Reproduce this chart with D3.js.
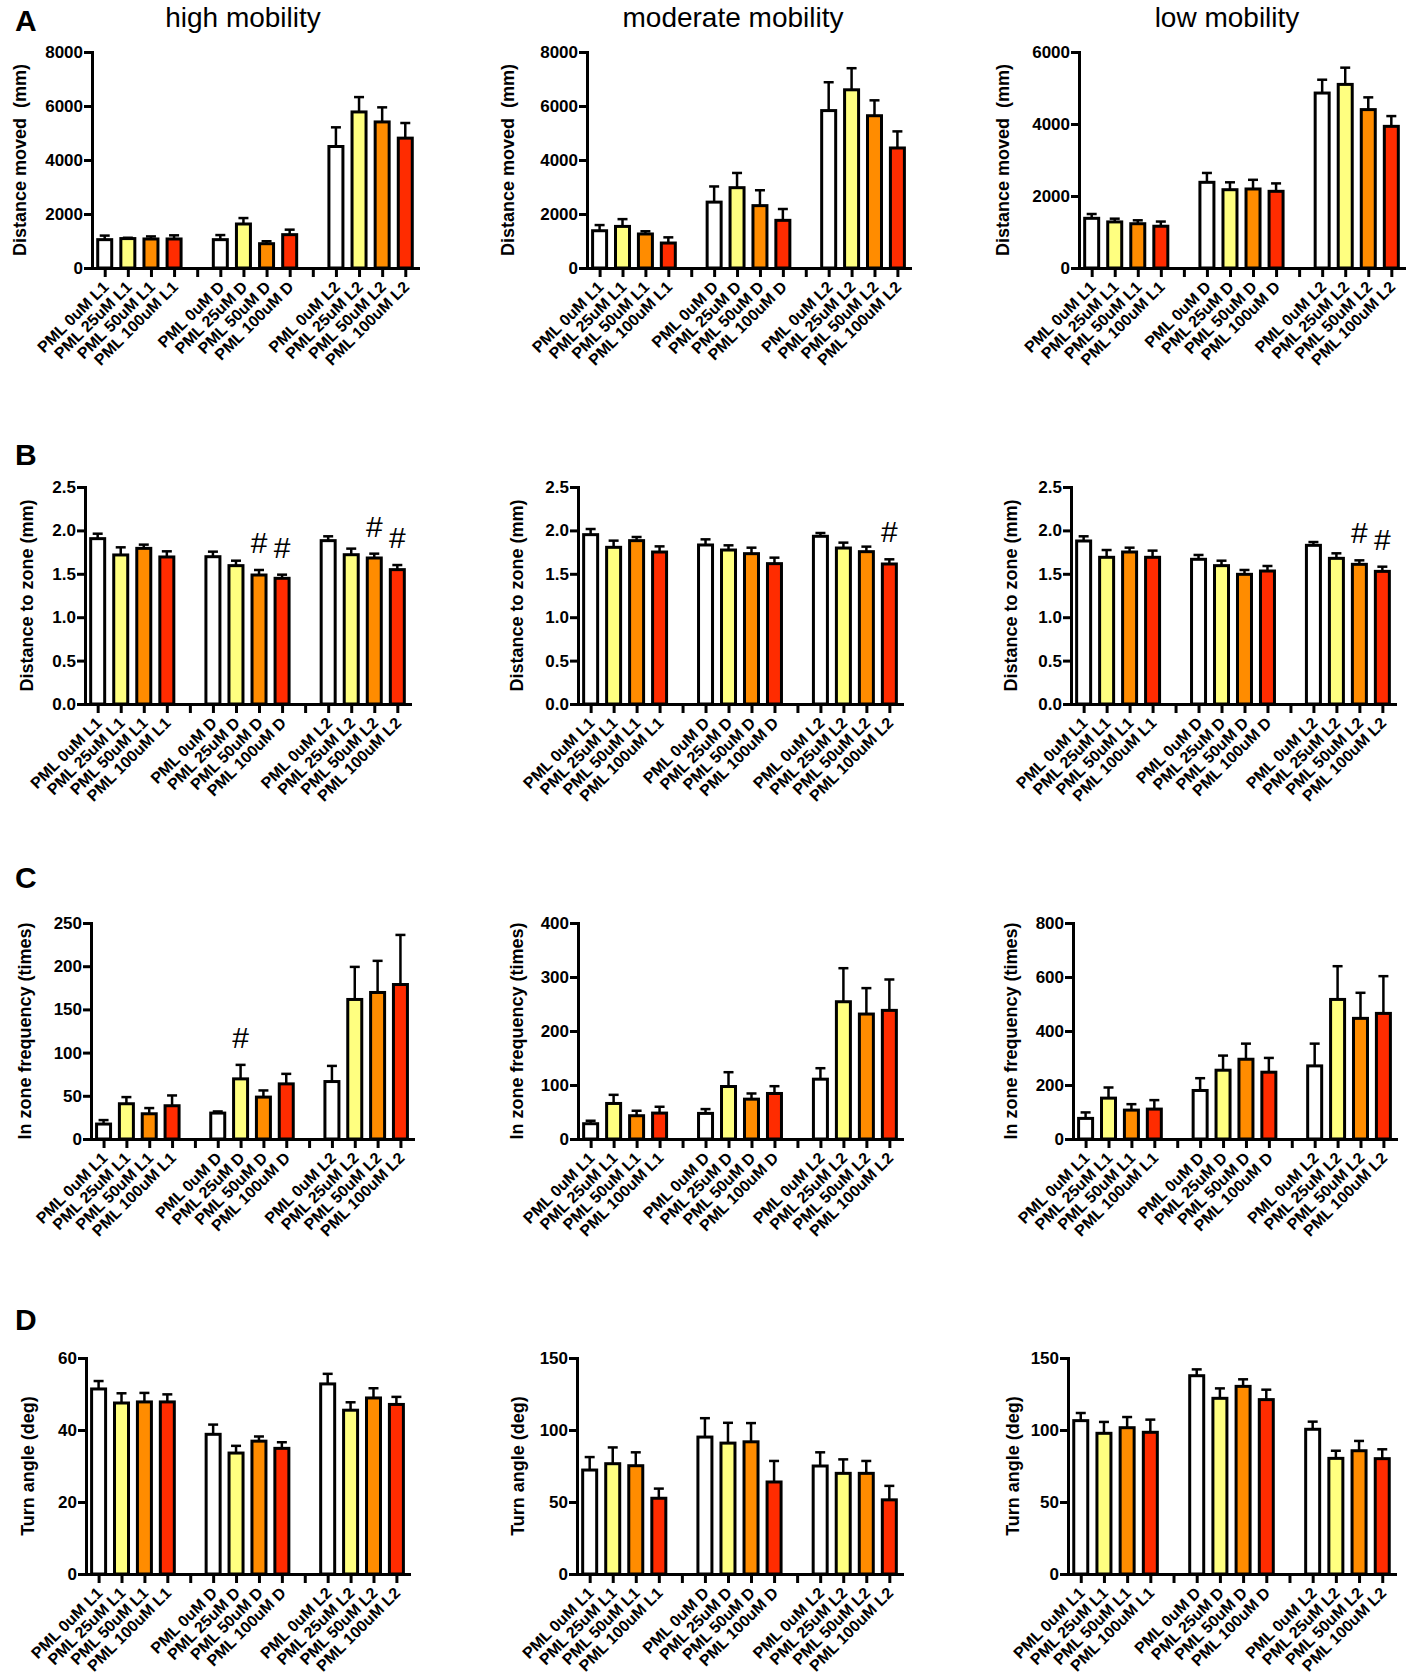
<!DOCTYPE html>
<html lang="en">
<head>
<meta charset="UTF-8">
<title>PML mobility bar charts</title>
<script src="https://d3js.org/d3.v7.min.js"></script>
<style>
    body { margin: 0; background: #fff; }
    svg { display: block; font-family: Arial, "Liberation Sans", sans-serif; }
    .tick text { font-weight: bold; font-size: 17px; fill: #000; }
    .ylab { font-weight: bold; font-size: 18px; white-space: pre; }
    .xlab { font-weight: bold; font-size: 16px; }
</style>
</head>
<body>
<div id="chart"></div>
<script>
// categories and columns
const categories = [
    "PML 0uM L1", "PML 25uM L1", "PML 50uM L1", "PML 100uM L1",
    "PML 0uM D", "PML 25uM D", "PML 50uM D", "PML 100uM D",
    "PML 0uM L2", "PML 25uM L2", "PML 50uM L2", "PML 100uM L2"
];
const columnTitles = ["high mobility", "moderate mobility", "low mobility"];
const rowLetters = ["A", "B", "C", "D"];
const yLabels = ["Distance moved  (mm)", "Distance to zone (mm)", "In zone frequency (times)", "Turn angle (deg)"];

// y axis extents and tick steps per row / column
const yMax = [[8000, 8000, 6000], [2.5, 2.5, 2.5], [250, 400, 800], [60, 150, 150]];
const yStep = [[2000, 2000, 2000], [0.5, 0.5, 0.5], [50, 100, 200], [20, 50, 50]];

// A: distance moved (mean, sem)
const distMovedHigh = [1050, 1090, 1075, 1075, 1050, 1630, 900, 1235, 4500, 5780, 5410, 4810];
const distMovedHighSem = [150, 30, 95, 135, 170, 220, 90, 185, 710, 550, 540, 560];
const distMovedMod = [1380, 1540, 1260, 925, 2440, 2975, 2310, 1765, 5830, 6600, 5640, 4445];
const distMovedModSem = [210, 270, 100, 210, 580, 545, 570, 420, 1050, 800, 570, 615];
const distMovedLow = [1380, 1280, 1230, 1160, 2380, 2175, 2195, 2130, 4860, 5100, 4400, 3935];
const distMovedLowSem = [120, 90, 95, 130, 260, 205, 255, 220, 370, 465, 340, 285];

// B: distance to zone
const distZoneHigh = [1.905, 1.717, 1.793, 1.694, 1.697, 1.594, 1.486, 1.448, 1.882, 1.72, 1.682, 1.548];
const distZoneHighSem = [0.057, 0.088, 0.043, 0.065, 0.058, 0.057, 0.058, 0.042, 0.05, 0.07, 0.05, 0.053];
const distZoneMod = [1.951, 1.805, 1.882, 1.751, 1.832, 1.774, 1.732, 1.617, 1.932, 1.797, 1.755, 1.613];
const distZoneModSem = [0.065, 0.077, 0.042, 0.065, 0.065, 0.054, 0.069, 0.069, 0.038, 0.062, 0.058, 0.054];
const distZoneLow = [1.878, 1.69, 1.751, 1.69, 1.667, 1.594, 1.494, 1.532, 1.828, 1.678, 1.609, 1.528];
const distZoneLowSem = [0.054, 0.084, 0.05, 0.077, 0.05, 0.057, 0.05, 0.058, 0.038, 0.058, 0.046, 0.054];

// C: in zone frequency
const freqHigh = [17.3, 40.8, 29.2, 38.5, 30, 69.6, 48.5, 63.8, 66.5, 161.5, 169.6, 178.8];
const freqHighSem = [4.6, 7.7, 6.6, 11.9, 1.9, 16.2, 7.7, 11.6, 18.1, 37.7, 36.6, 57.4];
const freqMod = [28.3, 65.8, 43.1, 48, 47.4, 97.2, 73.8, 84.3, 110.8, 254.2, 231.4, 238.2];
const freqModSem = [5.5, 16, 9.2, 11.7, 8, 26.5, 10.5, 13.5, 20.3, 62.1, 48, 57.2];
const freqLow = [76.3, 151.4, 107, 110.8, 179.7, 254.8, 295.4, 247.4, 270.8, 516.9, 446.8, 465.2];
const freqLowSem = [22.2, 39.4, 22, 33.2, 45.5, 54.1, 57.8, 52.9, 82.4, 123.1, 94.7, 137.9];

// D: turn angle
const turnHigh = [51.4, 47.5, 47.8, 47.8, 38.8, 33.6, 36.9, 34.9, 52.8, 45.5, 48.9, 47.1];
const turnHighSem = [2.2, 2.7, 2.5, 2.1, 2.7, 2.0, 1.3, 1.7, 2.8, 2.2, 2.7, 2.1];
const turnMod = [72.2, 76.6, 75.2, 52.6, 95.1, 90.9, 91.8, 63.9, 75, 69.9, 69.9, 51.5];
const turnModSem = [9, 11.3, 9.3, 6.7, 13.1, 14.1, 13, 14.6, 9.5, 9.7, 8.6, 9.7];
const turnLow = [106.5, 97.7, 101.6, 98.4, 137.7, 122, 130.3, 121.1, 100.5, 80.3, 85.6, 80.1];
const turnLowSem = [5.3, 7.9, 7.4, 8.8, 4.4, 6.9, 4.9, 6.9, 5.3, 5.3, 6.8, 6.5];

// "#" significance marks (bar indices)
const marks = [[[], [], []], [[6, 7, 10, 11], [11], [10, 11]], [[5], [], []], [[], [], []]];

const means = [
    [distMovedHigh, distMovedMod, distMovedLow],
    [distZoneHigh, distZoneMod, distZoneLow],
    [freqHigh, freqMod, freqLow],
    [turnHigh, turnMod, turnLow]
];
const sems = [
    [distMovedHighSem, distMovedModSem, distMovedLowSem],
    [distZoneHighSem, distZoneModSem, distZoneLowSem],
    [freqHighSem, freqModSem, freqLowSem],
    [turnHighSem, turnModSem, turnLowSem]
];

const fills = ["#ffffff", "#ffff80", "#ff8c00", "#ff2c00"];

// panel geometry
const rowTop = [52, 487, 923, 1358];
const rowZero = [268, 704, 1139, 1574];
const letterY = [31, 465, 888, 1330];
const layout = [
    [{x0: 92, x1: 418, lx: 20}, {x0: 587, x1: 910, lx: 508}, {x0: 1079, x1: 1404, lx: 1003}],
    [{x0: 85, x1: 410, lx: 27}, {x0: 578, x1: 902, lx: 517}, {x0: 1071, x1: 1395, lx: 1011}],
    [{x0: 91, x1: 413, lx: 25}, {x0: 578, x1: 902, lx: 517}, {x0: 1073, x1: 1396, lx: 1011}],
    [{x0: 86, x1: 409, lx: 28}, {x0: 577, x1: 902, lx: 518}, {x0: 1068, x1: 1395, lx: 1013}]
];
const titleX = [243, 733, 1227];

const domain = [...categories.slice(0, 4), "gap1", ...categories.slice(4, 8), "gap2", ...categories.slice(8)];

const svg = d3.select("#chart").append("svg")
    .attr("width", 1410)
    .attr("height", 1680);

// column titles
columnTitles.forEach((t, i) => {
    svg.append("text")
        .attr("x", titleX[i]).attr("y", 27)
        .attr("text-anchor", "middle")
        .style("font-size", "28px")
        .text(t);
});

// row letters
rowLetters.forEach((l, r) => {
    svg.append("text")
        .attr("x", 15).attr("y", letterY[r])
        .style("font-size", "30px").style("font-weight", "bold")
        .text(l);
});

function drawPanel(r, c) {
    const L = layout[r][c];
    const top = rowTop[r], zero = rowZero[r];
    const g = svg.append("g");

    const x = d3.scalePoint().domain(domain).range([L.x0, L.x1]).padding(0.55);
    const y = d3.scaleLinear().domain([0, yMax[r][c]]).range([zero, top]);
    const bw = 14;

    const fmt = r === 1 ? d3.format(".1f") : d3.format("d");
    const yAxis = d3.axisLeft(y)
        .tickValues(d3.range(0, yMax[r][c] + yStep[r][c] / 2, yStep[r][c]))
        .tickFormat(fmt)
        .tickSize(8).tickSizeOuter(0).tickPadding(1);
    const xAxis = d3.axisBottom(x).tickFormat("").tickSize(9).tickSizeOuter(0);

    const data = categories.map((cat, i) => ({
        cat, i, mean: means[r][c][i], sem: sems[r][c][i], fill: fills[i % 4]
    }));

    // error bars (upper only)
    const eb = g.selectAll(".err").data(data).enter().append("g");
    eb.append("line")
        .attr("x1", d => x(d.cat)).attr("x2", d => x(d.cat))
        .attr("y1", d => y(d.mean)).attr("y2", d => y(d.mean + d.sem))
        .attr("stroke", "#000").attr("stroke-width", 2.5);
    eb.append("line")
        .attr("x1", d => x(d.cat) - 5).attr("x2", d => x(d.cat) + 5)
        .attr("y1", d => y(d.mean + d.sem)).attr("y2", d => y(d.mean + d.sem))
        .attr("stroke", "#000").attr("stroke-width", 2.5);

    // bars
    g.selectAll(".bar").data(data).enter().append("rect")
        .attr("x", d => x(d.cat) - bw / 2)
        .attr("y", d => y(d.mean))
        .attr("width", bw)
        .attr("height", d => zero - y(d.mean))
        .attr("fill", d => d.fill)
        .attr("stroke", "#000").attr("stroke-width", 3);

    // axes
    const ya = g.append("g").attr("transform", `translate(${L.x0},0)`).call(yAxis);
    const xa = g.append("g").attr("transform", `translate(0,${zero})`).call(xAxis);
    [ya, xa].forEach(a => {
        a.attr("font-family", null).attr("font-size", null);
        a.select(".domain").attr("stroke-width", 3).attr("stroke-linecap", "square");
        a.selectAll(".tick line").attr("stroke-width", 3);
    });

    // category labels
    g.selectAll(".xlab").data(categories).enter().append("text")
        .attr("class", "xlab")
        .attr("text-anchor", "end")
        .attr("transform", d => `translate(${x(d) + 5},${zero + 20}) rotate(-45)`)
        .text(d => d);

    // y label
    g.append("text")
        .attr("class", "ylab")
        .attr("text-anchor", "middle")
        .attr("transform", `translate(${L.lx + 6},${(top + zero) / 2}) rotate(-90)`)
        .text(yLabels[r]);

    // significance marks
    g.selectAll(".mark").data(marks[r][c]).enter().append("text")
        .attr("x", i => x(categories[i]))
        .attr("y", i => y(means[r][c][i] + sems[r][c][i]) - 17)
        .attr("text-anchor", "middle")
        .style("font-size", "30px")
        .text("#");
}

for (let r = 0; r < 4; r++) {
    for (let c = 0; c < 3; c++) drawPanel(r, c);
}
</script>
</body>
</html>
